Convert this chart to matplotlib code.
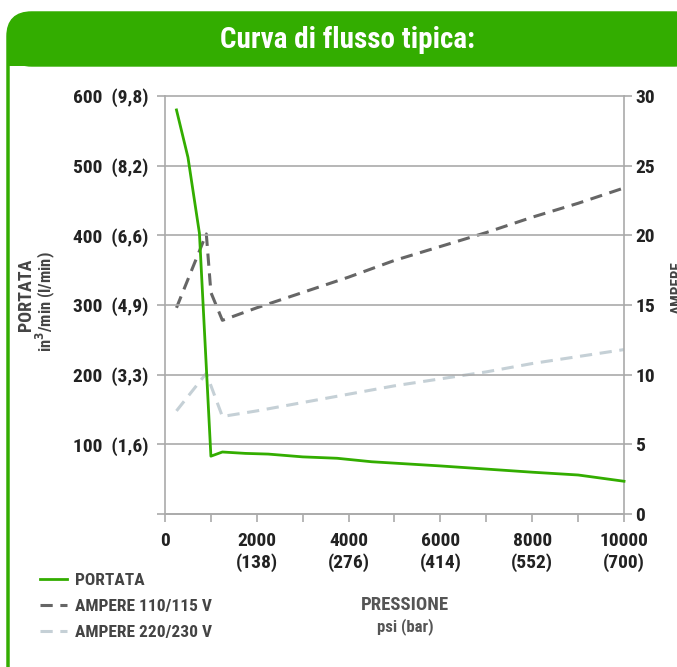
import matplotlib
matplotlib.use("Agg")
import matplotlib.pyplot as plt
from matplotlib import font_manager
from matplotlib.patches import FancyBboxPatch, Rectangle

# data
psi_portata = [250, 500, 750, 1000, 1250, 1750, 2250, 3000, 3750, 4500, 6000, 8000, 9000, 10000]
portata = [580, 512, 403, 83, 89, 87, 86, 82, 80, 75, 69, 60, 56, 47]

psi_amp_110 = [250, 900, 1000, 1250, 2000, 3000, 4000, 5000, 6000, 7000, 8000, 9000, 10000]
amp_110 = [14.8, 20.1, 15.9, 13.9, 14.8, 15.9, 17.0, 18.2, 19.2, 20.2, 21.3, 22.3, 23.4]

psi_amp_220 = [250, 900, 1250, 2000, 3000, 4000, 5000, 6000, 7000, 8000, 9000, 10000]
amp_220 = [7.4, 10.1, 7.0, 7.4, 8.0, 8.6, 9.2, 9.7, 10.2, 10.8, 11.3, 11.8]

left_ticks = [0, 100, 200, 300, 400, 500, 600]
left_labels = ["", "100  (1,6)", "200  (3,3)", "300  (4,9)", "400  (6,6)", "500  (8,2)", "600  (9,8)"]
right_ticks = [0, 5, 10, 15, 20, 25, 30]
x_ticks = [0, 2000, 4000, 6000, 8000, 10000]
x_labels = ["0", "2000\n(138)", "4000\n(276)", "6000\n(414)", "8000\n(552)", "10000\n(700)"]

GREEN = "#33ad00"
DARK = "#666666"
LIGHT = "#c5d0d6"
GRID = "#aaaaaa"
TXT = "#222222"

# pick a narrow bold face if one is installed
cond = [f for f in font_manager.fontManager.ttflist
        if f.stretch in ("condensed", "semi-condensed", "extra-condensed")
        or "Narrow" in f.name or "Condensed" in f.name]
FONT = "DejaVu Sans"
for pref in ["Roboto Condensed", "Liberation Sans Narrow", "Open Sans Condensed",
             "DejaVu Sans", "Roboto", "Open Sans", "Noto Sans"]:
    if any(f.name == pref for f in cond):
        FONT = pref
        break
plt.rcParams["font.family"] = [FONT, "DejaVu Sans"]
plt.rcParams["font.weight"] = "bold"
plt.rcParams["font.stretch"] = "condensed"

W, H = 677, 667
fig = plt.figure(figsize=(W / 100, H / 100), dpi=100)

def fx(px):
    return px / W

def fy(py):
    return 1 - py / H

# green frame and header
frame = FancyBboxPatch((fx(8), fy(720)), fx(690), fy(13) - fy(720),
                       boxstyle="round,pad=0,rounding_size=0.035",
                       transform=fig.transFigure, facecolor="white",
                       edgecolor=GREEN, linewidth=2.5, zorder=-2)
fig.patches.append(frame)
header = FancyBboxPatch((fx(8), fy(66)), fx(690), fy(13) - fy(66),
                        boxstyle="round,pad=0,rounding_size=0.035",
                        transform=fig.transFigure, facecolor=GREEN,
                        edgecolor=GREEN, linewidth=1, zorder=-1)
fig.patches.append(header)
fig.patches.append(Rectangle((fx(7), fy(66)), fx(690), fy(40) - fy(66),
                             transform=fig.transFigure, facecolor=GREEN,
                             edgecolor="none", zorder=-1))
fig.text(fx(347), fy(40), "Curva di flusso tipica:", color="white",
         fontsize=21, fontweight="bold", ha="center", va="center")

ax = fig.add_axes([fx(165), fy(514), fx(624) - fx(165), fy(96) - fy(514)])
ax2 = ax.twinx()
ax2.set_zorder(1)
ax.set_zorder(2)
ax.patch.set_visible(False)
ax2.patch.set_visible(False)

ax.set_xlim(0, 10000)
ax.set_ylim(0, 600)
ax2.set_ylim(0, 30)

ax.set_yticks(left_ticks)
ax.set_yticklabels(left_labels)
ax2.set_yticks(right_ticks)
ax.set_xticks(x_ticks)
ax.set_xticklabels(x_labels)
ax.set_xticks(range(1000, 10000, 2000), minor=True)

ax.grid(axis="y", color=GRID, linewidth=1.2, clip_on=False)
ax.spines["top"].set_visible(False)
ax2.spines["top"].set_visible(False)
ax.spines["right"].set_visible(False)
ax2.spines["bottom"].set_visible(False)
ax2.spines["left"].set_visible(False)
for sp in [ax.spines["left"], ax.spines["bottom"], ax2.spines["right"]]:
    sp.set_color(GRID)
    sp.set_linewidth(1.2)

ax.tick_params(axis="both", which="both", direction="out", length=6,
               width=1.2, color=GRID, labelcolor=TXT, labelsize=14)
ax.tick_params(axis="y", pad=6)
ax.tick_params(axis="x", pad=7)
ax2.tick_params(axis="y", direction="out", length=6, width=1.2, color=GRID,
                labelcolor=TXT, labelsize=14, pad=2)
for lab in ax.get_xticklabels() + ax.get_yticklabels() + ax2.get_yticklabels():
    lab.set_fontweight("bold")
    lab.set_linespacing(1.22)

l1, = ax.plot(psi_portata, portata, color=GREEN, linewidth=2, zorder=5,
              clip_on=False, label="PORTATA")
l2, = ax2.plot(psi_amp_110, amp_110, color=DARK, linewidth=2.2,
               dashes=(4, 2.5), label="AMPERE 110/115 V")
l3, = ax2.plot(psi_amp_220, amp_220, color=LIGHT, linewidth=2.2,
               dashes=(4, 2.5), label="AMPERE 220/230 V")

fig.text(fx(26), fy(295), "PORTATA", rotation=90, ha="center", va="center",
         fontsize=13, color="#444444", fontweight="bold")
fig.text(fx(45), fy(302), "in$^3$/min (l/min)", rotation=90, ha="center",
         va="center", fontsize=12, color="#444444", fontweight="bold")
fig.text(fx(678), fy(288), "AMPERE", rotation=90, ha="center", va="center",
         fontsize=11, color="#444444", fontweight="bold")

fig.text(fx(405), fy(605), "PRESSIONE", ha="center", va="center",
         fontsize=13.5, color="#555555", fontweight="bold")
fig.text(fx(405), fy(627), "psi (bar)", ha="center", va="center",
         fontsize=12, color="#555555", fontweight="bold")

leg = fig.legend(handles=[l1, l2, l3], loc="upper left",
                 bbox_to_anchor=(fx(24), fy(557)), frameon=False,
                 fontsize=12.5, handlelength=1.6, handletextpad=0.45,
                 labelspacing=0.62, labelcolor="#444444")
for t in leg.get_texts():
    t.set_fontweight("bold")

fig.savefig("out.png", dpi=100)
